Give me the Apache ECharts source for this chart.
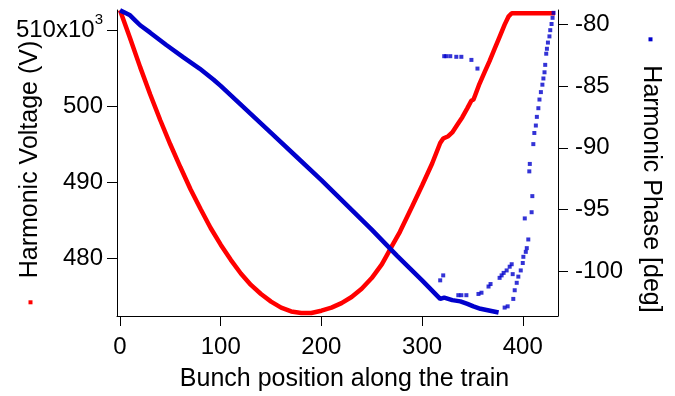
<!DOCTYPE html>
<html>
<head>
<meta charset="utf-8">
<script src="https://cdn.jsdelivr.net/npm/echarts@6/dist/echarts.min.js"></script>
<style>
  html, body { margin: 0; padding: 0; background: #fff; }
  #chart { width: 675px; height: 396px; }
</style>
</head>
<body>
<div id="chart"></div>
<script>
// Harmonic cavity voltage along the bunch train (left axis, V in units of 10^3)
const voltage = [
  [0, 512.7], [10, 509.0], [20, 505.2], [30, 501.6], [40, 498.2], [50, 495.0],
  [60, 492.0], [70, 489.1], [80, 486.5], [90, 484.0], [100, 481.8], [110, 479.8],
  [120, 478.0], [130, 476.5], [140, 475.3], [150, 474.3], [160, 473.5], [170, 473.0],
  [180, 472.8], [190, 472.8], [200, 473.1], [210, 473.5], [220, 474.1], [230, 474.9],
  [240, 476.0], [250, 477.4], [260, 479.2], [265, 480.4], [270, 481.6], [278, 483.5],
  [290, 486.8], [300, 489.6], [310, 492.5], [318, 495.2], [321, 495.8], [326, 496.1],
  [330, 496.6], [335, 497.6], [340, 498.6], [345, 499.8], [349, 500.8], [351, 500.9],
  [353, 501.6], [357, 503.0], [362, 504.5], [367, 506.0], [372, 507.6], [377, 509.2],
  [382, 510.8], [386, 511.9], [389, 512.3], [432, 512.3]
];

// Harmonic phase, continuous part of the trace (right axis, deg)
const phaseMain = [
  [0, -78.9], [5, -79.1], [10, -79.3], [15, -79.7], [20, -80.1], [30, -80.7],
  [46, -81.7], [63, -82.7], [79, -83.6], [93, -84.5], [100, -85.0], [125, -86.9],
  [150, -88.8], [175, -90.7], [200, -92.6], [225, -94.6], [250, -96.6], [275, -98.7],
  [300, -100.7], [318, -102.2], [322, -102.1], [330, -102.3], [338, -102.4],
  [345, -102.6], [351, -102.8], [358, -103.0], [364, -103.1], [370, -103.2], [376, -103.3]
];

// Harmonic phase, isolated samples near the end of the train
const phaseDots = [
  [322, -82.6], [324, -82.6], [328, -82.6], [334, -82.65], [339, -82.65], [349, -82.9], [355, -83.6],
  [318, -100.7], [321, -100.3], [336, -101.9], [339, -101.9], [344, -101.9], [356, -101.8], [359, -101.7],
  [366, -101.2], [368, -101.0], [377, -100.5], [379, -100.3], [381, -100.1], [384, -99.9],
  [387, -99.6], [389, -99.4], [390, -100.2], [382, -102.9], [385, -102.8],
  [390.6, -102.2], [392, -101.5], [394, -100.9], [395.6, -100.4], [398, -99.9], [400, -99.3],
  [400.6, -98.8], [403, -98.4], [404, -98.1], [405.5, -97.4], [402, -95.7], [408.8, -95.2],
  [409.5, -93.9], [406.5, -91.9], [407, -91.3], [410.5, -89.7], [411.5, -88.8], [413, -88.2],
  [414, -87.5], [415.5, -86.8], [416.6, -86.1], [418, -85.5], [419.5, -84.9], [420.5, -84.4],
  [421.6, -83.9], [422.3, -83.3], [423.3, -82.4], [424, -82.0], [425, -81.5], [426.5, -81.0],
  [427.3, -80.5], [428.6, -80.0], [429.6, -79.5], [430.6, -79.1], [432, -78.8]
];

const xTicks = [0, 100, 200, 300, 400];
const voltageTicks = [480, 490, 500, 510];
const phaseTicks = [-100, -95, -90, -85, -80];

const RED = '#ff0000';
const BLUE = '#0000cc';
const FONT = 'Liberation Sans, Arial, Helvetica, sans-serif';
const INK = '#000';

const axisLine = { show: true, onZero: false, lineStyle: { color: INK, width: 1 } };
const tick = (vals) => ({ show: true, length: 10, customValues: vals, lineStyle: { color: INK, width: 1 } });

const chart = echarts.init(document.getElementById('chart'), null, { renderer: 'canvas' });
chart.setOption({
  animation: false,
  backgroundColor: '#fff',
  textStyle: { fontFamily: FONT },
  grid: { left: 117, right: 117, top: 10, bottom: 80, containLabel: false, outerBoundsMode: 'none' },
  xAxis: {
    type: 'value', min: -3, max: 435,
    axisLine: axisLine,
    axisTick: tick(xTicks),
    splitLine: { show: false },
    axisLabel: { customValues: xTicks, margin: 19, fontSize: 24, color: INK, fontFamily: FONT },
    name: 'Bunch position along the train',
    nameLocation: 'middle', nameGap: 51, nameMoveOverlap: false,
    nameTextStyle: { fontSize: 25, color: INK, fontFamily: FONT, padding: [0, 0, 0, 14] }
  },
  yAxis: [
    {
      type: 'value', position: 'left', min: 472.4, max: 512.73,
      axisLine: axisLine,
      axisTick: tick(voltageTicks),
      splitLine: { show: false },
      axisLabel: {
        customValues: voltageTicks, margin: 14, fontSize: 24, color: INK, fontFamily: FONT,
        formatter: (v) => v === 510 ? '{n|510x10}{s|3}' : String(v),
        rich: {
          n: { fontSize: 24, color: INK, fontFamily: FONT },
          s: { fontSize: 15, color: INK, fontFamily: FONT, padding: [0, 0, 21, 0] }
        }
      },
      name: '{m|}{sp|}Harmonic Voltage (V){e|}',
      nameLocation: 'middle', nameRotate: 90, nameGap: 74, nameMoveOverlap: false,
      nameTextStyle: {
        fontSize: 25, color: INK, fontFamily: FONT,
        rich: {
          m: { width: 4, height: 4, backgroundColor: RED },
          sp: { width: 22 },
          e: { width: 19 }
        }
      }
    },
    {
      type: 'value', position: 'right', min: -103.58, max: -78.87,
      axisLine: axisLine,
      axisTick: tick(phaseTicks),
      splitLine: { show: false },
      axisLabel: { customValues: phaseTicks, margin: 17, fontSize: 24, color: INK, fontFamily: FONT },
      name: '{b|}{m|}{sp|}Harmonic Phase [deg]',
      nameLocation: 'middle', nameRotate: -90, nameGap: 80, nameMoveOverlap: false,
      nameTextStyle: {
        fontSize: 25, color: INK, fontFamily: FONT,
        rich: {
          b: { width: 24 },
          m: { width: 4, height: 4, backgroundColor: BLUE },
          sp: { width: 24 }
        }
      }
    }
  ],
  series: [
    {
      name: 'Harmonic Voltage', type: 'line', yAxisIndex: 0, data: voltage,
      showSymbol: false, lineStyle: { color: RED, width: 4.5 }, z: 2
    },
    {
      name: 'Harmonic Phase', type: 'line', yAxisIndex: 1, data: phaseMain,
      showSymbol: false, lineStyle: { color: BLUE, width: 4.5 }, z: 3
    },
    {
      name: 'Harmonic Phase samples', type: 'scatter', yAxisIndex: 1, data: phaseDots,
      symbol: 'rect', symbolSize: 4, itemStyle: { color: BLUE }, z: 3
    }
  ]
});
</script>
</body>
</html>
